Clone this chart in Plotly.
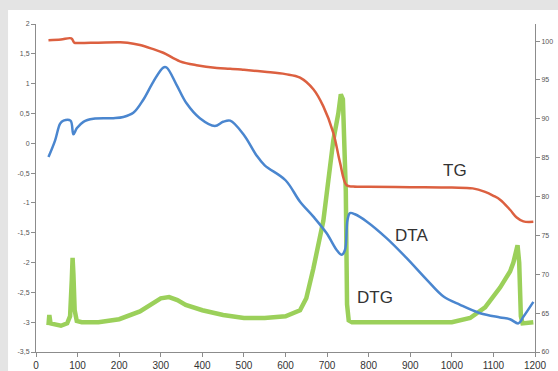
import plotly.graph_objects as go

# ---- data ----
tg_t = [30, 60, 85, 92, 100, 150, 200, 220, 250, 280, 306, 346, 386, 435, 467, 500, 550, 600,
        635, 667, 691, 715, 731, 747, 763, 800, 900, 1000, 1050, 1080, 1100, 1116, 1140, 1156,
        1172, 1196]
tg_v = [100.1, 100.2, 100.35, 99.8, 99.75, 99.8, 99.85, 99.8, 99.5, 99.0, 98.5, 97.4, 96.9,
        96.55, 96.45, 96.3, 96.05, 95.75, 95.3, 93.8, 91.6, 88.2, 84.4, 81.45, 81.3, 81.25,
        81.2, 81.15, 81.05, 80.6, 80.1, 79.6, 78.3, 77.3, 76.8, 76.75]

dta_t = [30, 46, 58, 66, 83, 90, 98, 114, 138, 186, 210, 234, 258, 282, 306, 314, 338, 362,
         394, 430, 450, 467, 500, 530, 550, 600, 635, 667, 699, 723, 735, 743, 749, 755, 767,
         795, 843, 892, 940, 980, 1020, 1068, 1116, 1140, 1160, 1172, 1196]
dta_v = [-0.23, 0.05, 0.33, 0.38, 0.38, 0.15, 0.25, 0.36, 0.41, 0.42, 0.44, 0.51, 0.73, 1.03,
         1.27, 1.27, 0.98, 0.67, 0.42, 0.29, 0.36, 0.38, 0.14, -0.2, -0.37, -0.62, -0.98,
         -1.23, -1.51, -1.79, -1.87, -1.79, -1.29, -1.17, -1.19, -1.31, -1.59, -1.93, -2.29,
         -2.57, -2.71, -2.85, -2.92, -2.95, -3.02, -2.91, -2.66]

dtg_t = [30, 32, 35, 45, 60, 75, 82, 86, 88, 90, 93, 98, 110, 150, 200, 250, 280, 300, 320,
         340, 360, 400, 450, 500, 550, 600, 635, 650, 667, 680, 691, 699, 715, 727, 733, 738,
         742, 745, 748, 752, 760, 800, 900, 1000, 1044, 1080, 1116, 1140, 1148, 1158, 1162,
         1166, 1170, 1196]
dtg_v = [-3.05, -2.88, -3.02, -3.03, -3.06, -3.02, -2.9, -2.3, -1.92, -2.2, -2.8, -2.98, -3.0,
         -3.0, -2.95, -2.82, -2.68, -2.6, -2.58, -2.63, -2.71, -2.8, -2.88, -2.93, -2.93, -2.9,
         -2.8, -2.6, -2.1, -1.7, -1.3, -0.85, 0.05, 0.5, 0.82, 0.74, 0.1, -0.8, -2.7, -2.97,
         -3.0, -3.0, -3.0, -3.0, -2.93, -2.75, -2.42, -2.15, -2.0, -1.71, -2.0, -2.9, -3.02,
         -3.0]

x_ticks = list(range(0, 1201, 100))
left_vals = [2, 1.5, 1, 0.5, 0, -0.5, -1, -1.5, -2, -2.5, -3, -3.5]
left_text = ["2", "1,5", "1", "0,5", "0", "-0,5", "-1", "-1,5", "-2", "-2,5", "-3", "-3,5"]
right_vals = [60, 65, 70, 75, 80, 85, 90, 95, 100]
right_text = ["60", "65", "70", "75", "80", "85", "90", "95", "100"]

fig = go.Figure()
fig.add_trace(go.Scatter(x=dtg_t, y=dtg_v, mode="lines", yaxis="y",
                         line=dict(color="#9BD05A", width=4.5), name="DTG"))
fig.add_trace(go.Scatter(x=dta_t, y=dta_v, mode="lines", yaxis="y", line_shape="spline",
                         line=dict(color="#4A86CF", width=2.5), name="DTA"))
fig.add_trace(go.Scatter(x=tg_t, y=tg_v, mode="lines", yaxis="y2", line_shape="spline",
                         line=dict(color="#DC6040", width=2.5), name="TG"))

axis_col = "#8c8c8c"
fig.update_layout(
    width=558, height=371,
    margin=dict(l=36, r=23, t=24, b=19, autoexpand=False),
    paper_bgcolor="#e4e4e4",
    plot_bgcolor="rgba(0,0,0,0)",
    showlegend=False,
    font=dict(family="Liberation Sans, Arial, sans-serif"),
    xaxis=dict(range=[0, 1200], tickvals=x_ticks, showgrid=False, zeroline=False,
               automargin=False,
               showline=True, linecolor=axis_col, linewidth=1, ticks="outside",
               ticklen=4, tickcolor=axis_col, tickfont=dict(size=10, color="#333333")),
    yaxis=dict(range=[-3.5, 2], tickvals=left_vals, ticktext=left_text, showgrid=False,
               automargin=False,
               zeroline=False, showline=True, linecolor=axis_col, linewidth=1,
               ticks="outside", ticklen=4, tickcolor=axis_col,
               tickfont=dict(size=7, color="#555555")),
    yaxis2=dict(range=[60, 102.2], tickvals=right_vals, ticktext=right_text,
                automargin=False,
                overlaying="y", side="right", showgrid=False, zeroline=False,
                showline=True, linecolor=axis_col, linewidth=1, ticks="outside",
                ticklen=4, tickcolor=axis_col, tickfont=dict(size=7, color="#555555")),
    shapes=[dict(type="rect", xref="paper", yref="paper", x0=-0.056, x1=1.2,
                 y0=-0.2, y1=1.043, fillcolor="white", line=dict(width=0), layer="below")],
    annotations=[
        dict(x=1008, y=-0.45, xref="x", yref="y", text="TG", showarrow=False,
             font=dict(size=17, color="#333333")),
        dict(x=904, y=-1.54, xref="x", yref="y", text="DTA", showarrow=False,
             font=dict(size=17, color="#333333")),
        dict(x=815, y=-2.58, xref="x", yref="y", text="DTG", showarrow=False,
             font=dict(size=17, color="#333333")),
    ],
)

fig.write_html("out.html")
